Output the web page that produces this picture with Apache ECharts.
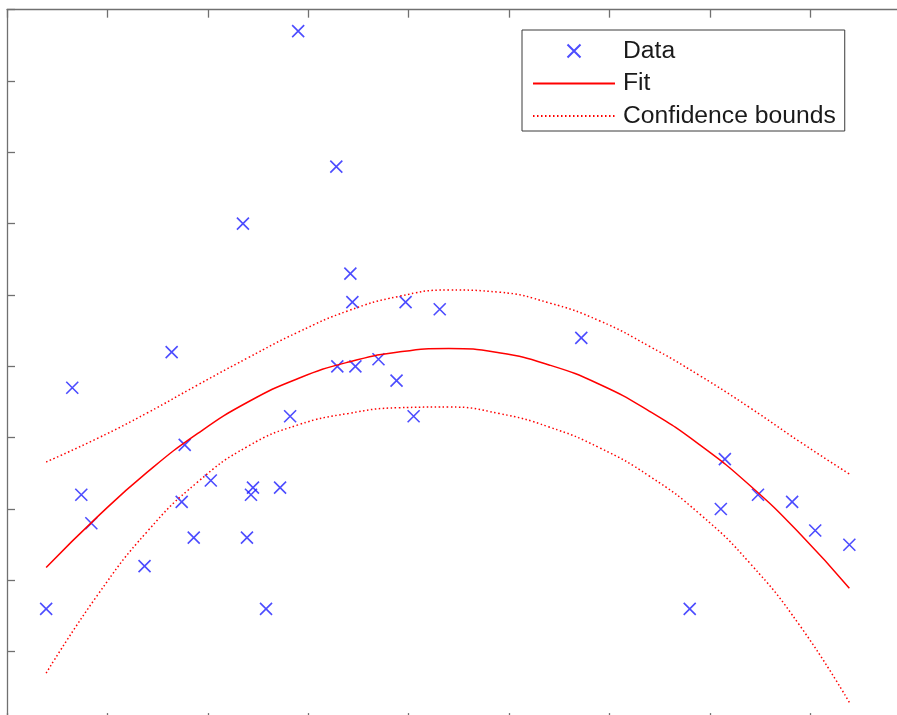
<!DOCTYPE html>
<html>
<head>
<meta charset="utf-8">
<title>Quadratic fit with confidence bounds</title>
<script src="https://cdn.jsdelivr.net/npm/echarts@6/dist/echarts.min.js"></script>
<style>
  html, body { margin: 0; padding: 0; background: #ffffff; overflow: hidden; }
  /* The axes box runs past the right and bottom edges of the view, so the
     canvas is a little larger than the window and simply gets cut off. */
  #chart { width: 916px; height: 732px; }
</style>
</head>
<body>
<div id="chart"></div>
<script>
// Observed samples
const dataX = [0.39, 0.65, 0.74, 0.84, 1.37, 1.64, 1.74, 1.77, 1.86, 2.03, 2.35, 2.39,
               2.45, 2.43, 2.58, 2.72, 2.82, 2.90, 3.28, 3.29, 3.42, 3.44, 3.47, 3.70,
               3.88, 3.97, 4.05, 4.31, 5.72, 6.80, 7.11, 7.15, 7.48, 7.82, 8.05, 8.39];
const dataY = [1.6, 4.7, 3.2, 2.8, 2.2, 5.2, 3.1, 3.9, 2.6, 3.4, 7.0, 2.6,
               3.3, 3.2, 1.6, 3.3, 4.3, 9.7, 7.8, 5.0, 6.3, 5.9, 5.0, 5.1,
               4.8, 5.9, 4.3, 5.8, 5.4, 1.6, 3.0, 3.7, 3.2, 3.1, 2.7, 2.5];

// Sample positions for the fitted curve and its bounds
const curveX = [0.39, 0.9, 1.4, 1.9, 2.4, 2.9, 3.4, 3.9, 4.4, 4.9, 5.4, 5.9, 6.4, 6.9, 7.4, 7.9, 8.39];

// Fitted curve
const fitY   = [2.18, 2.89, 3.52, 4.06, 4.50, 4.83, 5.06, 5.20, 5.25, 5.19, 5.02, 4.75, 4.37, 3.90, 3.33, 2.65, 1.89];
// Upper confidence bound
const upperY = [3.66, 3.99, 4.35, 4.74, 5.12, 5.48, 5.78, 5.98, 6.07, 6.04, 5.89, 5.64, 5.28, 4.87, 4.42, 3.94, 3.49];
// Lower confidence bound
const lowerY = [0.70, 1.79, 2.69, 3.38, 3.88, 4.18, 4.34, 4.42, 4.43, 4.34, 4.15, 3.86, 3.46, 2.93, 2.24, 1.36, 0.29];

const legendNames = ['Data', 'Fit', 'Confidence bounds'];

const pairs = (xs, ys) => xs.map((x, i) => [x, ys[i]]);

const AXIS_COLOR = '#707070';
const FONT = '"Liberation Sans", Arial, Helvetica, sans-serif';

function axis(pos, tickLen, extra) {
  return Object.assign({
    type: 'value',
    position: pos,
    axisLine: { show: true, onZero: false, lineStyle: { color: AXIS_COLOR, width: 1.3 } },
    axisTick: { show: true, inside: true, length: tickLen, lineStyle: { color: AXIS_COLOR, width: 1.3 } },
    axisLabel: { show: false },
    splitLine: { show: false }
  }, extra);
}

const boundStyle = { color: '#ff0000', width: 1.5, type: [1.5, 2.5] };

const chart = echarts.init(document.getElementById('chart'), null, { renderer: 'canvas' });

chart.setOption({
  animation: false,
  backgroundColor: '#ffffff',
  grid: { left: 7, top: 9.66, width: 903.6, height: 713.4, containLabel: false },
  xAxis: [
    axis('bottom', 10, { min: 0, max: 9, interval: 1 }),
    axis('top', 8, { min: 0, max: 9, interval: 1 })
  ],
  yAxis: [
    axis('left', 8, { min: 0, max: 10, interval: 1 }),
    axis('right', 8, { min: 0, max: 10, interval: 1 })
  ],
  legend: {
    data: [
      { name: legendNames[0] },
      { name: legendNames[1], itemStyle: { opacity: 0 } },
      { name: legendNames[2], itemStyle: { opacity: 0 } }
    ],
    orient: 'vertical',
    left: 522,
    top: 30,
    padding: [8.5, 9, 2.5, 10],
    itemGap: 7.5,
    itemWidth: 82,
    itemHeight: 13,
    backgroundColor: '#ffffff',
    borderColor: '#3a3a3a',
    borderWidth: 1,
    borderRadius: 0,
    selectedMode: false,
    textStyle: { fontFamily: FONT, fontSize: 24.7, color: '#1a1a1a', padding: [0, 0, 0, 3] }
  },
  series: [
    {
      name: 'Data',
      type: 'scatter',
      data: pairs(dataX, dataY),
      symbol: 'path://M0,0L10,10M10,0L0,10',
      symbolSize: 12,
      itemStyle: { color: 'rgba(0,0,0,0)', borderColor: '#1f1fff', borderWidth: 1.6 },
      z: 2
    },
    {
      name: 'Fit',
      type: 'line',
      data: pairs(curveX, fitY),
      smooth: 0.5,
      showSymbol: false,
      symbol: 'none',
      itemStyle: { color: '#ff0000' },
      lineStyle: { color: '#ff0000', width: 1.5 },
      z: 3
    },
    {
      name: 'Confidence bounds',
      type: 'line',
      data: pairs(curveX, upperY),
      smooth: 0.5,
      showSymbol: false,
      symbol: 'none',
      itemStyle: { color: '#ff0000' },
      lineStyle: boundStyle,
      z: 3
    },
    {
      name: 'Confidence bounds',
      type: 'line',
      data: pairs(curveX, lowerY),
      smooth: 0.5,
      showSymbol: false,
      symbol: 'none',
      itemStyle: { color: '#ff0000' },
      lineStyle: boundStyle,
      z: 3
    }
  ]
});
</script>
</body>
</html>
